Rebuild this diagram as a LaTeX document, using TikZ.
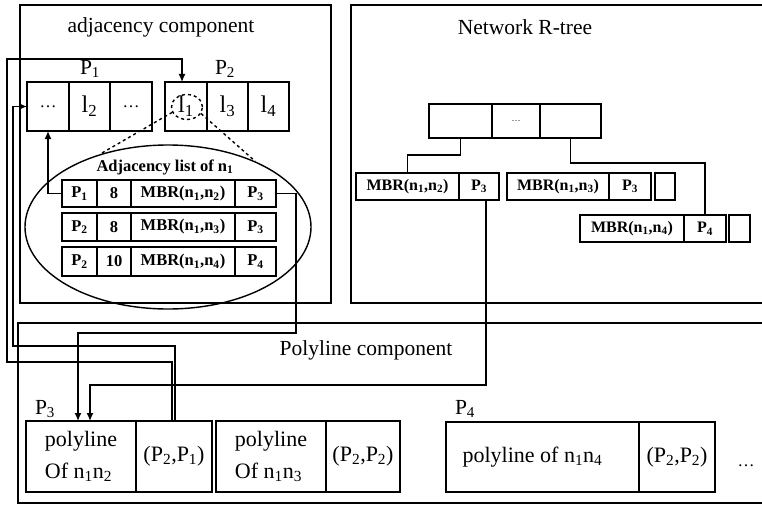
\documentclass[tikz,border=0pt]{standalone}
\usepackage{fontspec}
\setmainfont{Liberation Serif}
\usetikzlibrary{arrows.meta,shapes.geometric}

% subscript in text
\newcommand{\ix}[1]{\textsubscript{#1}}
% rectangular cell given by its corners: style, name, x1, y1, x2, y2, text
\newcommand{\mkcell}[7]{%
  \pgfmathsetmacro\mkcX{(#3+#5)/2}%
  \pgfmathsetmacro\mkcY{(#4+#6)/2}%
  \pgfmathsetmacro\mkcW{#5-#3}%
  \pgfmathsetmacro\mkcH{#6-#4}%
  \node[draw, inner sep=0pt, outer sep=0pt, minimum width=\mkcW pt,
        minimum height=\mkcH pt, #1] (#2) at (\mkcX,\mkcY) {#7};}

\begin{document}
\begin{tikzpicture}[x=1pt, y=-1pt, line width=1.4pt,
  ttl/.style={font=\fontsize{21.5}{25}\selectfont},
  bigtxt/.style={font=\fontsize{24}{26}\selectfont},
  dotstyle/.style={font=\fontsize{17}{17}\selectfont},
  tabtxt/.style={font=\fontsize{16.5}{18}\selectfont\bfseries},
  leaftxt/.style={font=\fontsize{16}{18}\selectfont\bfseries},
  plytxt/.style={font=\fontsize{22}{32}\selectfont, align=left},
  arr/.style={-{Latex[length=8pt,width=7pt]}}]

\useasboundingbox[fill=white] (0,0) rectangle (762,508);

% component frames
\draw (20,5) rectangle (331,303);
\draw (775,5) -- (351,5) -- (351,303) -- (775,303);
\draw (775,323) -- (18,323) -- (18,503) -- (775,503);
\node[ttl] (tadj) at (161,27) {adjacency component};
\node[ttl] (trt)  at (525,27) {Network R-tree};
\node[ttl] (tply) at (366,350) {Polyline component};

% pages P1 and P2 of the adjacency component
\node[ttl] (lp1) at (90,69) {P\ix{1}};
\node[ttl] (lp2) at (225,69) {P\ix{2}};
\mkcell{dotstyle}{c1}{27}{82}{69}{131}{\dots}
\mkcell{bigtxt}{c2}{69}{82}{110}{131}{l\ix{2}}
\mkcell{dotstyle}{c3}{110}{82}{152}{131}{\dots}
\mkcell{bigtxt}{c4}{165}{82}{207}{131}{l\ix{1}}
\mkcell{bigtxt}{c5}{207}{82}{248}{131}{l\ix{3}}
\mkcell{bigtxt}{c6}{248}{82}{289}{131}{l\ix{4}}
\node[draw, dashed, ellipse, inner sep=0pt, minimum width=31pt,
      minimum height=25pt] (zc) at (187,107) {};

% adjacency list of n1
\node[draw, ellipse, inner sep=0pt, minimum width=286pt,
      minimum height=164pt] (adjl) at (168,227) {};
\node[tabtxt] (tadjl) at (165,167) {Adjacency list of n\ix{1}};
\mkcell{tabtxt}{r1a}{62}{180}{97}{207}{P\ix{1}}
\mkcell{tabtxt}{r1b}{97}{180}{131}{207}{8}
\mkcell{tabtxt}{r1c}{131}{180}{235}{207}{MBR(n\ix{1},n\ix{2})}
\mkcell{tabtxt}{r1d}{235}{180}{276}{207}{P\ix{3}}
\mkcell{tabtxt}{r2a}{62}{213}{97}{241}{P\ix{2}}
\mkcell{tabtxt}{r2b}{97}{213}{131}{241}{8}
\mkcell{tabtxt}{r2c}{131}{213}{235}{241}{MBR(n\ix{1},n\ix{3})}
\mkcell{tabtxt}{r2d}{235}{213}{276}{241}{P\ix{3}}
\mkcell{tabtxt}{r3a}{62}{247}{97}{276}{P\ix{2}}
\mkcell{tabtxt}{r3b}{97}{247}{131}{276}{10}
\mkcell{tabtxt}{r3c}{131}{247}{235}{276}{MBR(n\ix{1},n\ix{4})}
\mkcell{tabtxt}{r3d}{235}{247}{276}{276}{P\ix{4}}
\draw[dashed] (zc.200) -- (adjl.133);
\draw[dashed] (zc.-25) -- (adjl.37);

% network R-tree
\mkcell{}{rt1}{429}{104}{492}{138}{}
\mkcell{font=\fontsize{9}{9}\selectfont}{rt2}{492}{104}{540}{138}{\dots}
\mkcell{}{rt3}{540}{104}{601}{138}{}
\mkcell{leaftxt}{la1}{356}{173}{459}{200}{MBR(n\ix{1},n\ix{2})}
\mkcell{leaftxt}{la2}{459}{173}{499}{200}{P\ix{3}}
\mkcell{leaftxt}{lb1}{507}{173}{609}{200}{MBR(n\ix{1},n\ix{3})}
\mkcell{leaftxt}{lb2}{609}{173}{651}{200}{P\ix{3}}
\mkcell{}{lb3}{655}{173}{675}{200}{}
\mkcell{leaftxt}{lc1}{580}{215}{684}{242}{MBR(n\ix{1},n\ix{4})}
\mkcell{leaftxt}{lc2}{684}{215}{726}{242}{P\ix{4}}
\mkcell{}{lc3}{729}{215}{750}{242}{}
\draw (rt1.south) -- ++(0,17) -| (la1.north);
\draw (rt3.south) -- ++(0,25) -| (lc2.north);

% polyline component
\node[ttl] (lp3) at (45,409) {P\ix{3}};
\node[ttl] (lp4) at (465,409) {P\ix{4}};
\mkcell{plytxt}{pa1}{26}{421}{136}{492}{polyline\\Of n\ix{1}n\ix{2}}
\mkcell{plytxt}{pa2}{136}{421}{212}{492}{(P\ix{2},P\ix{1})}
\mkcell{plytxt}{pb1}{216}{421}{326}{492}{polyline\\Of n\ix{1}n\ix{3}}
\mkcell{plytxt}{pb2}{326}{421}{400}{492}{(P\ix{2},P\ix{2})}
\mkcell{plytxt}{pc1}{446}{422}{639}{492}{polyline of n\ix{1}n\ix{4}\hspace{20pt}}
\mkcell{plytxt}{pc2}{639}{422}{715}{492}{(P\ix{2},P\ix{2})}
\node[dotstyle] (pmore) at (746,466) {\dots};

% pointers between components
\draw[arr] (r1a.west) -| (c1.south);
\draw[arr] (r1d.east) -| (296,333) -| ([xshift=-3pt]pa1.north);
\draw[arr] ([xshift=7pt]la2.south) -- ++(0,185) -| ([xshift=9pt]pa1.north);
\draw[arr] ([xshift=-2pt]pa2.north) |- (7,362) |- (182,59)
           -- ([xshift=-4pt]c4.north);
\draw[arr] ([xshift=1pt]pa2.north) |- (13,346) |- (c1.west);
\end{tikzpicture}
\end{document}
